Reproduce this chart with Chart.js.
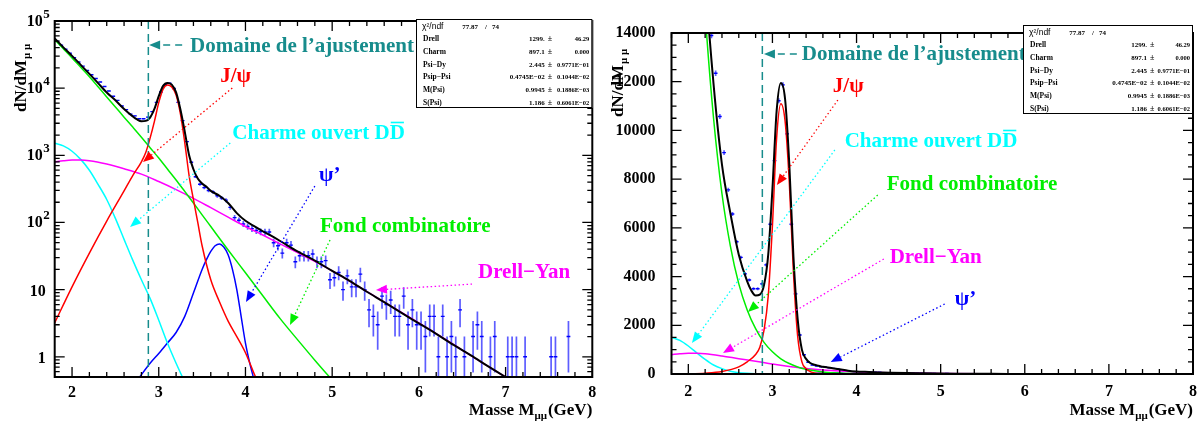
<!DOCTYPE html>
<html><head><meta charset="utf-8">
<script src="https://cdn.jsdelivr.net/npm/chart.js@4.4.1/dist/chart.umd.min.js"></script>
<style>
html,body{margin:0;padding:0;background:#fff;}
#wrap{position:relative;width:1199px;height:425px;overflow:hidden;background:#fff;}
#left{position:absolute;left:0;top:0;width:600px;height:425px;}
#right{position:absolute;left:600px;top:0;width:599px;height:425px;}
</style></head><body>
<div id="wrap"><div id="left"><canvas id="cLog" width="600" height="425"></canvas></div><div id="right"><canvas id="cLin" width="599" height="425"></canvas></div></div>
<script>
// ---------------- data ----------------
const binMass = [1.825,1.875,1.925,1.975,2.025,2.075,2.125,2.175,2.225,2.275,2.325,2.375,2.425,2.475,2.525,2.575,2.625,2.675,2.725,2.775,2.825,2.875,2.925,2.975,3.025,3.075,3.125,3.175,3.225,3.275,3.325,3.375,3.425,3.475,3.525,3.575,3.625,3.675,3.725,3.775,3.825,3.875,3.925,3.975,4.025,4.075,4.125,4.175,4.225,4.275,4.325,4.375,4.425,4.475,4.525,4.575,4.625,4.675,4.725,4.775,4.825,4.875,4.925,4.975,5.025,5.075,5.125,5.175,5.225,5.275,5.325,5.375,5.425,5.475,5.525,5.575,5.625,5.675,5.725,5.775,5.825,5.875,5.925,5.975,6.025,6.075,6.125,6.175,6.225,6.275,6.325,6.375,6.425,6.475,6.525,6.625,6.675,6.725,6.825,6.875,7.025,7.075,7.125,7.225,7.525,7.575,7.725];
const binCounts = [50100,43600,38000,33100,28500,24500,21300,18300,15800,13900,12350,10570,9090,7560,6570,5430,4790,4110,3860,3500,3500,3700,4480,6150,8760,11220,11870,9860,6150,3290,1600,790,480,370,330,300,285,250,232,215,168,118,108,95,87,81,76,73,72,72,50,45,35,50,46,26,32,32,32,34,26,26,27,14,15,18,10,16,11,11,17,10,5,4,3,8,6,7,4,4,8,3,5,3,3,2,4,4,1,4,1,2,1,5,1,2,3,2,1,2,1,1,1,1,1,1,2];

const totalMass = [1.8,1.9,2.0,2.1,2.2,2.3,2.4,2.5,2.6,2.7,2.75,2.8,2.85,2.9,2.95,3.0,3.05,3.1,3.15,3.2,3.25,3.3,3.35,3.4,3.45,3.5,3.55,3.6,3.7,3.8,3.9,4.0,4.1,4.2,4.3,4.4,4.6,4.8,5.0,5.2,5.4,5.6,5.8,6.0,6.2,6.4,6.6,6.8,7.0,7.1];
const totalFit = [55000,40500,30200,22200,16300,11900,8600,6600,4900,3800,3420,3220,3260,3650,4900,7600,10800,11950,11300,8650,4800,2250,1000,620,450,380,340,295,250,195,138,106,88,74,63,53,37,27,19,13.5,9.3,6.5,4.5,3.15,2.2,1.5,1.05,0.72,0.5,0.42];

const jpsiMass = [1.8,2.0,2.2,2.4,2.6,2.7,2.8,2.85,2.9,2.95,3.0,3.05,3.1,3.15,3.2,3.25,3.3,3.35,3.4,3.45,3.5,3.6,3.7,3.8,3.9,4.0,4.1,4.15];
const jpsiFit = [3.2,11,35,105,295,500,800,1100,1800,3200,6100,9700,11100,10400,7900,4150,1550,500,220,100,45,14,6.6,3.4,2.0,1.15,0.56,0.4];

const combMass = [1.8,1.9,2.0,2.1,2.2,2.3,2.4,2.5,2.6,2.7,2.8,2.9,3.0,3.1,3.2,3.3,3.4,3.5,3.6,3.8,4.0,4.2,4.4,4.6,4.8,5.0];
const combFit = [52500,38500,28200,20400,14800,10500,7400,5250,3700,2630,1860,1300,910,625,430,290,195,130,87,39,17.8,8.1,3.7,1.8,0.89,0.45];

const dyMass = [1.8,1.9,2.0,2.1,2.2,2.4,2.6,2.8,3.0,3.2,3.4,3.6,3.8,4.0,4.2,4.4,4.6,4.8,5.0,5.5,6.0,6.5,7.0,7.1];
const dyFit = [795,830,850,850,830,740,630,525,407,309,229,166,120,87,65,48,35.5,26.3,19,7.8,3.2,1.26,0.5,0.42];

const charmMass = [1.8,1.9,2.0,2.1,2.2,2.3,2.4,2.5,2.6,2.7,2.8,2.9,3.0,3.1,3.2,3.3];
const charmFit = [1510,1380,1150,870,600,370,220,115,56,27.5,14,7.4,3.5,1.6,0.8,0.42];

const psipMass = [2.78,2.9,3.0,3.1,3.2,3.3,3.4,3.5,3.55,3.6,3.65,3.7,3.75,3.8,3.85,3.9,3.95,4.0,4.05,4.1];
const psipFit = [0.5,0.8,1.12,1.6,2.3,4.0,8.9,20,28,37,45,48,43,33,20,10,4,1.6,0.8,0.45];

const xTickLabels = ['2','3','4','5','6','7','8'];
const logTickValues = [1,10,100,1000,10000,100000];
const logTickLabels = [['1',''],['10',''],['10','2'],['10','3'],['10','4'],['10','5']];
const linTickLabels = ['0','2000','4000','6000','8000','10000','12000','14000'];

const statNames = ['Drell','Charm','Psi−Dy','Psip−Psi','M(Psi)','S(Psi)'];
const statValues = ['1299.','897.1','2.445','0.4745E−02','0.9945','1.186'];
const statErrors = ['46.29','0.000','0.9771E−01','0.1044E−02','0.1886E−03','0.6061E−02'];
const chi2Text = ['77.87','74'];

// ---------------- styling / helpers ----------------
const FONT = '"Liberation Serif","Times New Roman",serif';
const SANS = '"Liberation Sans",Arial,sans-serif';
const TEAL = '#178c8c';

function curve(mass, vals, color, width, order) {
  return { data: mass.map((m, i) => ({x: m, y: vals[i]})), borderColor: color, borderWidth: width,
    pointRadius: 0, fill: false, cubicInterpolationMode: 'monotone', order: order, clip: 0 };
}
function errorBars(isLog) {
  const pts = [];
  binMass.forEach((m, i) => {
    const n = binCounts[i], e = Math.sqrt(n);
    let lo = n - e; if (isLog && lo < 0.05) lo = 0.05;
    pts.push({x: m, y: lo}, {x: m, y: n + e}, {x: m, y: null});
  });
  return { data: pts, borderColor: 'rgba(30,30,255,0.72)', borderWidth: 1.7, pointRadius: 0, spanGaps: false, order: 20, clip: 0 };
}
function markers() {
  const pts = [];
  binMass.forEach((m, i) => {
    pts.push({x: m - 0.022, y: binCounts[i]}, {x: m + 0.022, y: binCounts[i]}, {x: m, y: null});
  });
  return { data: pts, borderColor: '#0000ff', borderWidth: 1.4, pointRadius: 0, spanGaps: false, order: 19, clip: 0 };
}

function arrow(ctx, x1, y1, x2, y2, color, dash, width) {
  ctx.save();
  const ang = Math.atan2(y2 - y1, x2 - x1), L = 11, H = 4.5;
  const bx = x2 - L * Math.cos(ang), by = y2 - L * Math.sin(ang);
  ctx.strokeStyle = color; ctx.lineWidth = width; ctx.setLineDash(dash);
  ctx.beginPath(); ctx.moveTo(x1, y1); ctx.lineTo(bx, by); ctx.stroke();
  ctx.setLineDash([]); ctx.fillStyle = color;
  ctx.beginPath(); ctx.moveTo(x2, y2);
  ctx.lineTo(bx - H * Math.sin(ang), by + H * Math.cos(ang));
  ctx.lineTo(bx + H * Math.sin(ang), by - H * Math.cos(ang));
  ctx.closePath(); ctx.fill();
  ctx.restore();
}

const overlay = {
  id: 'overlay',
  afterDatasetsDraw(chart, args, o) {
    const ctx = chart.ctx, a = chart.chartArea, xs = chart.scales.x, ys = chart.scales.y;
    const px = v => xs.getPixelForValue(v), py = v => ys.getPixelForValue(v);
    ctx.save();
    ctx.strokeStyle = TEAL; ctx.lineWidth = 1.5; ctx.setLineDash([8, 5]);
    ctx.beginPath(); ctx.moveTo(px(o.fitEdge), a.top); ctx.lineTo(px(o.fitEdge), a.bottom); ctx.stroke();
    ctx.setLineDash([]);
    const d = o.domain;
    ctx.font = 'bold 21px ' + FONT; ctx.fillStyle = TEAL; ctx.textAlign = 'left'; ctx.textBaseline = 'alphabetic';
    ctx.fillText(d.text, px(d.x), py(d.y));
    arrow(ctx, px(d.from.x), py(d.from.y), px(d.to.x), py(d.to.y), TEAL, [7, 5], 1.5);
    o.notes.forEach(n => {
      ctx.font = 'bold 21px ' + FONT; ctx.fillStyle = n.color; ctx.textAlign = 'left';
      const tx = px(n.x), ty = py(n.y);
      ctx.fillText(n.text, tx, ty);
      if (n.bar) {
        const w0 = ctx.measureText(n.text).width;
        ctx.fillText(n.bar, tx + w0, ty);
        const wb = ctx.measureText(n.bar).width;
        ctx.strokeStyle = n.color; ctx.lineWidth = 1.6;
        ctx.beginPath(); ctx.moveTo(tx + w0 + 1, ty - 16.5); ctx.lineTo(tx + w0 + wb - 1, ty - 16.5); ctx.stroke();
      }
      arrow(ctx, px(n.from.x), py(n.from.y), px(n.to.x), py(n.to.y), n.color, [1.5, 2.5], 1.3);
    });
    ctx.restore();
  },
  afterDraw(chart, args, o) {
    const ctx = chart.ctx, a = chart.chartArea, xs = chart.scales.x, ys = chart.scales.y;
    ctx.save();
    ctx.strokeStyle = '#000'; ctx.lineWidth = 1.3;
    ctx.beginPath();
    for (let k = 0; k <= 31; k++) {
      const v = Math.round((1.8 + 0.2 * k) * 10) / 10;
      const major = Math.abs(v - Math.round(v)) < 1e-6;
      const L = major ? 10 : 5, x = xs.getPixelForValue(v);
      ctx.moveTo(x, a.bottom); ctx.lineTo(x, a.bottom - L);
      ctx.moveTo(x, a.top); ctx.lineTo(x, a.top + L);
    }
    const yTicks = [];
    if (o.log) {
      for (let dd = -1; dd <= 5; dd++) for (let m = 1; m <= 9; m++) {
        const v = m * Math.pow(10, dd);
        if (v >= 0.5 && v <= 100000) yTicks.push([v, m === 1]);
      }
    } else {
      for (let v = 0; v <= 14000; v += 500) yTicks.push([v, v % 2000 === 0]);
    }
    yTicks.forEach(([v, major]) => {
      const y = ys.getPixelForValue(v), L = major ? 10 : 5;
      ctx.moveTo(a.left, y); ctx.lineTo(a.left + L, y);
      ctx.moveTo(a.right, y); ctx.lineTo(a.right - L, y);
    });
    ctx.stroke();
    ctx.lineWidth = 2;
    ctx.strokeRect(a.left, a.top, a.right - a.left, a.bottom - a.top);
    ctx.fillStyle = '#000'; ctx.textBaseline = 'alphabetic';
    if (o.log) {
      logTickValues.forEach((v, i) => {
        const y = ys.getPixelForValue(v), [base, ex] = logTickLabels[i];
        ctx.font = 'bold 16px ' + FONT;
        if (ex) {
          ctx.textAlign = 'right'; ctx.fillText(base, a.left - 12, y + 5);
          ctx.font = 'bold 13px ' + FONT; ctx.textAlign = 'left'; ctx.fillText(ex, a.left - 11.5, y - 3);
        } else {
          ctx.textAlign = 'right'; ctx.fillText(base, a.left - 9, y + 6);
        }
      });
    }
    // x title
    const xt = o.xTitle;
    ctx.font = 'bold 17px ' + FONT;
    const p1 = 'Masse M', p3 = '(GeV)';
    const w1 = ctx.measureText(p1).width, w3 = ctx.measureText(p3).width;
    ctx.font = 'bold 11px ' + FONT;
    const w2 = ctx.measureText('μμ').width;
    const x0 = a.right - (w1 + w2 + w3 + 1);
    ctx.textAlign = 'left';
    ctx.font = 'bold 17px ' + FONT; ctx.fillText(p1, x0, xt);
    ctx.font = 'bold 11px ' + FONT; ctx.fillText('μμ', x0 + w1, xt + 4);
    ctx.font = 'bold 17px ' + FONT; ctx.fillText(p3, x0 + w1 + w2 + 1, xt);
    // y title
    const yt = o.yTitle;
    ctx.save(); ctx.translate(yt.x, yt.y); ctx.rotate(-Math.PI / 2);
    ctx.font = 'bold 17px ' + FONT; ctx.textAlign = 'left'; ctx.fillText('dN/dM', 0, 0);
    const wd = ctx.measureText('dN/dM').width;
    ctx.font = 'bold 11px ' + FONT; ctx.fillText('μ μ', wd + 1, 4);
    ctx.restore();
    // stats box
    const b = o.box, W = b.right - b.left, rowH = (b.bottom - b.top) / 7;
    ctx.fillStyle = '#fff'; ctx.fillRect(b.left, b.top, W, b.bottom - b.top);
    ctx.strokeStyle = '#000'; ctx.lineWidth = 1;
    ctx.strokeRect(b.left + 0.5, b.top + 0.5, W - 1, b.bottom - b.top - 1);
    ctx.fillStyle = '#000';
    const yb = b.top + rowH * 0.5 + 3.5;
    ctx.font = '8.5px ' + SANS; ctx.textAlign = 'left'; ctx.fillText('χ²/ndf', b.left + 6, yb);
    ctx.font = 'bold 7px ' + FONT; ctx.textAlign = 'right'; ctx.fillText(chi2Text[0], b.left + 62, yb);
    ctx.textAlign = 'center'; ctx.fillText('/', b.left + 70, yb);
    ctx.textAlign = 'left'; ctx.fillText(chi2Text[1], b.left + 76, yb);
    statNames.forEach((nm, i) => {
      const yy = b.top + rowH * (i + 1.5) + 3;
      ctx.font = 'bold 7.5px ' + FONT;
      ctx.textAlign = 'left'; ctx.fillText(nm, b.left + 7, yy);
      ctx.font = 'bold 7px ' + FONT;
      ctx.textAlign = 'right'; ctx.fillText(statValues[i], b.left + 0.73 * W, yy);
      ctx.font = 'bold 8px ' + FONT; ctx.textAlign = 'center'; ctx.fillText('±', b.left + 0.76 * W, yy);
      ctx.font = 'bold 6.5px ' + FONT; ctx.textAlign = 'right'; ctx.fillText(statErrors[i], b.right - 3, yy);
    });
    ctx.restore();
  }
};

function makeChart(id, isLog, cfg) {
  const datasets = [
    curve(totalMass, totalFit, '#000000', 2, 0),
    curve(jpsiMass, jpsiFit, '#ff0000', 1.5, 1),
    curve(combMass, combFit, '#00ee00', 1.5, 2),
    curve(dyMass, dyFit, '#ff00ff', 1.5, 3),
    curve(charmMass, charmFit, '#00ffff', 1.5, 4),
    curve(psipMass, psipFit, '#0000ff', 1.5, 5),
    markers(),
    errorBars(isLog)
  ];
  const tickFont = {family: FONT, size: 16, weight: 'bold'};
  return new Chart(document.getElementById(id), {
    type: 'line',
    data: {datasets},
    options: {
      responsive: false, devicePixelRatio: 1, animation: false,
      layout: {padding: {left: 0, top: cfg.top, right: cfg.right, bottom: 0}},
      plugins: {legend: {display: false}, tooltip: {enabled: false}, overlay: cfg.overlay},
      scales: {
        x: {
          type: 'linear', min: 1.8, max: 8, offset: false,
          grid: {display: false}, border: {display: false},
          afterBuildTicks: s => { s.ticks = xTickLabels.map(t => ({value: Number(t)})); },
          afterFit: s => { s.height = cfg.xHeight; },
          ticks: {autoSkip: false, maxRotation: 0, padding: cfg.xPad, color: '#000', font: tickFont, callback: v => String(v)}
        },
        y: isLog ? {
          type: 'logarithmic', min: 0.5, max: 100000,
          grid: {display: false}, border: {display: false},
          afterBuildTicks: s => { s.ticks = logTickValues.map(v => ({value: v})); },
          afterFit: s => { s.width = cfg.yWidth; },
          ticks: {callback: () => ''}
        } : {
          type: 'linear', min: 0, max: 14000,
          grid: {display: false}, border: {display: false},
          afterBuildTicks: s => { s.ticks = linTickLabels.map(t => ({value: Number(t)})); },
          afterFit: s => { s.width = cfg.yWidth; },
          ticks: {autoSkip: false, padding: 8, color: '#000', font: tickFont, callback: v => String(v)}
        }
      }
    },
    plugins: [overlay]
  });
}

makeChart('cLog', true, {
  top: 21, right: 7.7, xHeight: 48, yWidth: 54.7, xPad: -2,
  overlay: {
    log: true, fitEdge: 2.88, xTitle: 415, yTitle: {x: 26, y: 112},
    domain: {text: 'Domaine de l’ajustement', x: 3.36, y: 34600, from: {x: 3.27, y: 44000}, to: {x: 2.889, y: 44000}},
    notes: [
      {text: 'J/ψ', color: '#ff0000', x: 3.709, y: 12360, from: {x: 3.848, y: 10050}, to: {x: 2.818, y: 795}},
      {text: 'Charme ouvert D', bar: 'D', color: '#00ffff', x: 3.848, y: 1750, from: {x: 3.825, y: 1527}, to: {x: 2.669, y: 85.7}},
      {text: 'ψ’', color: '#0000ff', x: 4.849, y: 415, from: {x: 4.80, y: 349}, to: {x: 4.006, y: 6.55}},
      {text: 'Fond combinatoire', color: '#00ee00', x: 4.86, y: 72.2, from: {x: 4.975, y: 54.8}, to: {x: 4.514, y: 2.97}},
      {text: 'Drell−Yan', color: '#ff00ff', x: 6.682, y: 14.9, from: {x: 6.613, y: 12.1}, to: {x: 5.505, y: 9.88}}
    ],
    box: {left: 416, top: 19, right: 592.3, bottom: 108}
  }
});

makeChart('cLin', false, {
  top: 33, right: 6, xHeight: 51, yWidth: 71.5, xPad: 0,
  overlay: {
    log: false, fitEdge: 2.88, xTitle: 415, yTitle: {x: 23, y: 117},
    domain: {text: 'Domaine de l’ajustement', x: 3.349, y: 12890, from: {x: 3.29, y: 13138}, to: {x: 2.899, y: 13138}},
    notes: [
      {text: 'J/ψ', color: '#ff0000', x: 3.718, y: 11578, from: {x: 3.778, y: 11249}, to: {x: 3.053, y: 7760}},
      {text: 'Charme ouvert D', bar: 'D', color: '#00ffff', x: 3.859, y: 9320, from: {x: 3.742, y: 9196}, to: {x: 2.043, y: 1273}},
      {text: 'Fond combinatoire', color: '#00ee00', x: 4.359, y: 7554, from: {x: 4.252, y: 7349}, to: {x: 2.709, y: 2545}},
      {text: 'Drell−Yan', color: '#ff00ff', x: 4.394, y: 4557, from: {x: 4.324, y: 4721}, to: {x: 2.412, y: 862}},
      {text: 'ψ’', color: '#0000ff', x: 5.167, y: 2833, from: {x: 5.048, y: 2874}, to: {x: 3.693, y: 493}}
    ],
    box: {left: 423, top: 25, right: 593, bottom: 114}
  }
});
</script></body></html>
